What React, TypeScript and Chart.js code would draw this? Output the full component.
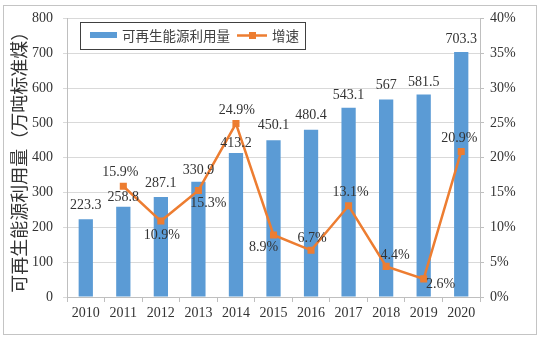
import React, { useEffect, useRef } from 'react';
import { Chart, registerables } from 'chart.js';

Chart.register(...registerables);

const years = ['2010', '2011', '2012', '2013', '2014', '2015', '2016', '2017', '2018', '2019', '2020'];
const renewableUse = [223.3, 258.8, 287.1, 330.9, 413.2, 450.1, 480.4, 543.1, 567, 581.5, 703.3];
const growthRate: (number | null)[] = [null, 15.9, 10.9, 15.3, 24.9, 8.9, 6.7, 13.1, 4.4, 2.6, 20.9];
const growthLabels = ['', '15.9%', '10.9%', '15.3%', '24.9%', '8.9%', '6.7%', '13.1%', '4.4%', '2.6%', '20.9%'];
const barLabels = ['223.3', '258.8', '287.1', '330.9', '413.2', '450.1', '480.4', '543.1', '567', '581.5', '703.3'];

const seriesNames = ['可再生能源利用量', '增速'];
const yTitle = '可再生能源利用量（万吨标准煤）';

// label placement (style only)
const barLabelLift = [14, 10, 14, 11, 10, 15, 14, 13, 14, 12, 13];
const growthLabelShift: [number, number][] = [
  [0, 0], [-3, -14], [1, 14], [10, 13], [1, -13], [-10, 12], [1, -12], [2, -13], [9, -11], [17, 5], [-2, -13],
];

const BAR = '#5B9BD5';
const LINE = '#ED7D31';
const SERIF = '"Liberation Serif", "Times New Roman", serif';
const CJK = '"Noto Sans CJK SC", "Noto Sans", sans-serif';
const TEXT = '#333333';

const framePlugin = {
  id: 'frame',
  beforeDraw(chart: any) {
    const ctx = chart.ctx;
    ctx.save();
    ctx.fillStyle = '#ffffff';
    ctx.fillRect(0, 0, chart.width, chart.height);
    ctx.strokeStyle = '#c4c4c4';
    ctx.lineWidth = 1;
    ctx.strokeRect(3.5, 5.5, 533, 329);
    ctx.restore();
  },
};

const labelsPlugin = {
  id: 'valueLabels',
  afterDatasetsDraw(chart: any) {
    const ctx = chart.ctx;
    ctx.save();
    ctx.font = `14px ${SERIF}`;
    ctx.fillStyle = TEXT;
    ctx.textAlign = 'center';
    ctx.textBaseline = 'middle';
    const barMeta = chart.getDatasetMeta(0);
    barMeta.data.forEach((el: any, i: number) => {
      ctx.fillText(barLabels[i], el.x, el.y - barLabelLift[i]);
    });
    const lineMeta = chart.getDatasetMeta(1);
    lineMeta.data.forEach((el: any, i: number) => {
      if (growthRate[i] == null) return;
      const [dx, dy] = growthLabelShift[i];
      ctx.fillText(growthLabels[i], el.x + dx, el.y + dy);
    });
    ctx.restore();
  },
};

const legendPlugin = {
  id: 'boxLegend',
  afterDraw(chart: any) {
    const ctx = chart.ctx;
    ctx.save();
    ctx.fillStyle = '#ffffff';
    ctx.fillRect(80, 22, 225, 27);
    ctx.strokeStyle = '#404040';
    ctx.lineWidth = 1;
    ctx.strokeRect(80.5, 22.5, 225, 27);
    ctx.fillStyle = BAR;
    ctx.fillRect(90, 32, 27, 6);
    ctx.font = `13.5px ${CJK}`;
    ctx.fillStyle = '#404040';
    ctx.textAlign = 'left';
    ctx.textBaseline = 'middle';
    ctx.fillText(seriesNames[0], 122, 36);
    ctx.strokeStyle = LINE;
    ctx.lineWidth = 2.5;
    ctx.beginPath();
    ctx.moveTo(237, 35.5);
    ctx.lineTo(267, 35.5);
    ctx.stroke();
    ctx.fillStyle = LINE;
    ctx.fillRect(249, 32, 7, 7);
    ctx.fillStyle = '#404040';
    ctx.fillText(seriesNames[1], 272, 36);
    ctx.restore();
  },
};

export default function App() {
  const ref = useRef<HTMLCanvasElement>(null);

  useEffect(() => {
    if (!ref.current) return;
    const chart = new Chart(ref.current, {
      type: 'bar',
      data: {
        labels: years,
        datasets: [
          {
            type: 'bar',
            label: seriesNames[0],
            data: renewableUse,
            backgroundColor: BAR,
            borderWidth: 0,
            barPercentage: 0.38,
            categoryPercentage: 1,
            yAxisID: 'y',
            order: 1,
          },
          {
            type: 'line',
            label: seriesNames[1],
            data: growthRate,
            borderColor: LINE,
            backgroundColor: LINE,
            borderWidth: 2.5,
            pointStyle: 'rect',
            pointRadius: 5,
            pointBackgroundColor: LINE,
            pointBorderColor: LINE,
            pointBorderWidth: 0,
            tension: 0,
            yAxisID: 'y1',
            order: 0,
          } as any,
        ],
      },
      options: {
        responsive: false,
        animation: false,
        layout: { padding: { top: 18, left: 0, right: 0, bottom: 0 } },
        plugins: {
          legend: { display: false },
          tooltip: { enabled: false },
        },
        scales: {
          x: {
            grid: {
              offset: true,
              drawOnChartArea: false,
              drawTicks: true,
              tickLength: 5,
              color: '#bfbfbf',
            },
            border: { color: '#bfbfbf' },
            ticks: { font: { family: SERIF, size: 14 }, color: TEXT, padding: 3, maxRotation: 0 },
            afterFit: (s: any) => {
              s.height = 44;
            },
          },
          y: {
            position: 'left',
            min: 0,
            max: 800,
            ticks: { stepSize: 100, font: { family: SERIF, size: 14 }, color: TEXT, padding: 10 },
            grid: { color: '#d9d9d9', tickLength: 4 },
            border: { color: '#bfbfbf' },
            title: {
              display: true,
              text: yTitle,
              font: { family: CJK, size: 18 },
              color: TEXT,
              padding: { top: 8, bottom: 0 },
            },
            afterFit: (s: any) => {
              s.width = 67;
            },
          },
          y1: {
            position: 'right',
            min: 0,
            max: 40,
            ticks: {
              stepSize: 5,
              font: { family: SERIF, size: 14 },
              color: TEXT,
              padding: 6,
              callback: (v: any) => `${v}%`,
            },
            grid: { drawOnChartArea: false, tickLength: 4, color: '#bfbfbf' },
            border: { color: '#bfbfbf' },
            afterFit: (s: any) => {
              s.width = 61;
            },
          },
        },
      } as any,
      plugins: [framePlugin, labelsPlugin, legendPlugin],
    });
    return () => chart.destroy();
  }, []);

  return (
    <div style={{ position: 'absolute', left: 0, top: 0, width: 541, height: 341 }}>
      <canvas ref={ref} width={541} height={341} style={{ display: 'block' }} />
    </div>
  );
}
